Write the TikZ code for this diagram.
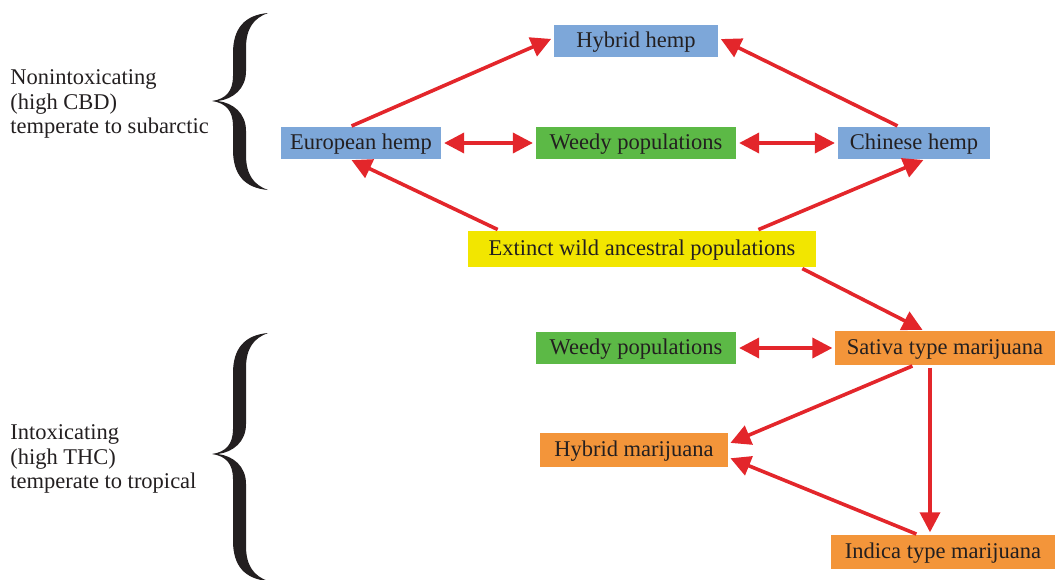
\documentclass[tikz,border=0pt]{standalone}
\usepackage{fontspec}
\setmainfont{Liberation Serif}
\usepackage{tikz}
\usetikzlibrary{arrows.meta}

\definecolor{hempblue}{HTML}{7DA7D9}
\definecolor{weedgreen}{HTML}{5CB946}
\definecolor{wildyellow}{HTML}{F2E600}
\definecolor{marorange}{HTML}{F3953A}
\definecolor{arrowred}{HTML}{E3262B}
\definecolor{inkgray}{HTML}{231F20}

% curly brace as a filled shape: top y, middle y, bottom y (pixel units)
\newcommand{\curlybrace}[3]{%
\fill[inkgray] (268,#1) .. controls (245,{#1+2}) and (233,{#1+15}) .. (233,{#1+40})
  -- (233,{#2-25}) .. controls (233,{#2-10}) and (226,{#2-2}) .. (212,#2)
  .. controls (226,{#2+2}) and (233,{#2+10}) .. (233,{#2+25})
  -- (233,{#3-40}) .. controls (233,{#3-15}) and (245,{#3-2}) .. (268,#3)
  .. controls (254,{#3-5}) and (246,{#3-15}) .. (246,{#3-35})
  -- (246,{#2+30}) .. controls (246,{#2+12}) and (233,{#2+2}) .. (218,#2)
  .. controls (233,{#2-2}) and (246,{#2-12}) .. (246,{#2-30})
  -- (246,{#1+35}) .. controls (246,{#1+15}) and (254,{#1+5}) .. (268,#1) -- cycle;}

\tikzset{
  box/.style={inner sep=0pt, minimum height=0.78cm, text=inkgray,
    text height=1.1em, text depth=0.2em,
    font=\fontsize{16}{18}\selectfont},
  hemp/.style={box, fill=hempblue},
  weedy/.style={box, fill=weedgreen},
  wild/.style={box, fill=wildyellow},
  marijuana/.style={box, fill=marorange},
  link/.style={draw=arrowred, line width=0.09cm,
    -{Triangle[length=0.5cm,width=0.5cm]}, shorten >=2pt, shorten <=2pt},
  both/.style={link, {Triangle[length=0.5cm,width=0.5cm]}-{Triangle[length=0.5cm,width=0.5cm]}},
  side/.style={align=left, anchor=west, text=inkgray, inner xsep=0pt,
    font=\fontsize{16}{17.5}\selectfont}
}

\begin{document}
\begin{tikzpicture}[x=0.025cm, y=-0.025cm]
\useasboundingbox (0,0) rectangle (1058,579);

% left labels and braces
\node[side] (nonintox) at (10,104) {Nonintoxicating\\(high CBD)\\temperate to subarctic};
\node[side] (intox) at (10,459) {Intoxicating\\(high THC)\\temperate to tropical};
\curlybrace{13}{101}{190}
\curlybrace{333}{454}{581}

% hemp side
\node[hemp, minimum width=4.1cm] (hybridhemp) at (636,41) {Hybrid hemp};
\node[hemp, minimum width=4.0cm] (european) at (361,143) {European hemp};
\node[weedy, minimum width=5.0cm] (weedytop) at (636,143) {Weedy populations};
\node[hemp, minimum width=3.8cm] (chinese) at (914,143) {Chinese hemp};
\node[wild, minimum width=8.675cm, minimum height=0.9cm] (ancestral) at (642,249) {Extinct wild ancestral populations};

% marijuana side
\node[weedy, minimum width=5.0cm] (weedybot) at (636,348) {Weedy populations};
\node[marijuana, minimum width=5.475cm, minimum height=0.83cm] (sativa) at (945,348) {Sativa type marijuana};
\node[marijuana, minimum width=4.675cm, minimum height=0.83cm] (hybridmar) at (634,450) {Hybrid marijuana};
\node[marijuana, minimum width=5.6cm, minimum height=0.83cm] (indica) at (943,552) {Indica type marijuana};

% arrows
\draw[link] ([xshift=-0.3cm]european.north) -- ([yshift=0.08cm]hybridhemp.west);
\draw[link] ([xshift=-0.35cm]chinese.north) -- ([yshift=0.08cm]hybridhemp.east);
\draw[link] ([xshift=0.8cm]ancestral.north west) -- ([xshift=-0.3cm]european.south);
\draw[link] ([xshift=-1.5cm]ancestral.north east) -- ([xshift=0.3cm]chinese.south);
\draw[link] ([xshift=-0.4cm]ancestral.south east) -- ([xshift=-0.5cm]sativa.north);
\draw[both] (european.east) -- (weedytop.west);
\draw[both] (weedytop.east) -- (chinese.west);
\draw[both] (weedybot.east) -- (sativa.west);
\draw[link] ([xshift=-0.75cm]sativa.south) -- ([yshift=0.15cm]hybridmar.east);
\draw[link] ([xshift=-0.375cm]sativa.south) -- ([xshift=-0.375cm]sativa.south |- indica.north);
\draw[link] ([xshift=-0.6cm]indica.north) -- ([yshift=-0.18cm]hybridmar.east);
\end{tikzpicture}
\end{document}
